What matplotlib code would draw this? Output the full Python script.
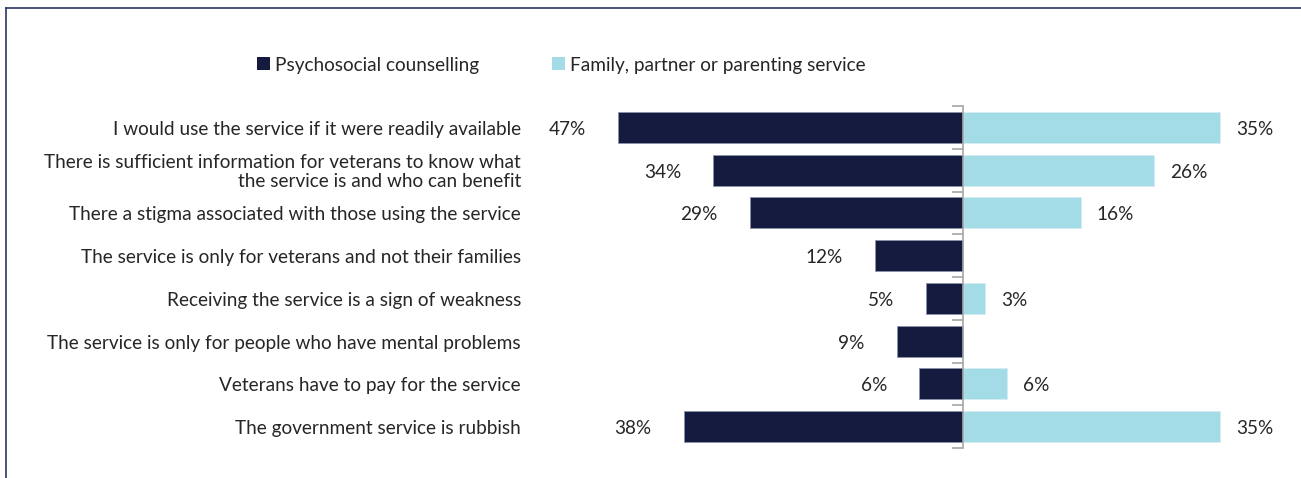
import matplotlib
matplotlib.use("Agg")
import matplotlib.pyplot as plt
from matplotlib.patches import Patch
from matplotlib.lines import Line2D
from matplotlib.transforms import blended_transform_factory

plt.rcParams['font.family'] = ['Lato', 'DejaVu Sans']

# statements, top to bottom
statements = [
    "I would use the service if it were readily available",
    "There is sufficient information for veterans to know what\nthe service is and who can benefit",
    "There a stigma associated with those using the service",
    "The service is only for veterans and not their families",
    "Receiving the service is a sign of weakness",
    "The service is only for people who have mental problems",
    "Veterans have to pay for the service",
    "The government service is rubbish",
]

# share agreeing (%) for each service
counselling = [47, 34, 29, 12, 5, 9, 6, 38]
family = [35, 26, 16, 0, 3, 0, 6, 35]

series_names = ["Psychosocial counselling", "Family, partner or parenting service"]
dark = "#151a3f"
light = "#a3dce7"
text_col = "#262626"
fs = 13.7

W, H = 1301, 478
fig = plt.figure(figsize=(W / 100, H / 100), dpi=100)

# axes placed in pixel terms: 540..1290 wide, 106..448 tall
ax = fig.add_axes([540 / W, 1 - 448 / H, 750 / W, 342 / H])
px_per_pct = 7.35
ax.set_xlim(-(963 - 540) / px_per_pct, (1290 - 963) / px_per_pct)
ax.set_ylim(len(statements) - 0.5, -0.5)

ypos = list(range(len(statements)))
ax.barh(ypos, [-v for v in counselling], height=0.73, color=dark,
        edgecolor="#8d93ad", linewidth=0.6, zorder=2)
ax.barh(ypos, family, height=0.73, color=light,
        edgecolor="#d4eef3", linewidth=0.6, zorder=2)

# value labels
for y, v in zip(ypos, counselling):
    ax.annotate(f"{v}%", xy=(-v, y), xytext=(-32, -2), textcoords="offset pixels",
                ha="right", va="center", fontsize=fs, color=text_col)
for y, v in zip(ypos, family):
    if v == 0:
        continue
    ax.annotate(f"{v}%", xy=(v, y), xytext=(16, -2), textcoords="offset pixels",
                ha="left", va="center", fontsize=fs, color=text_col)

# centre axis with category boundary ticks
for s in ["top", "right", "bottom"]:
    ax.spines[s].set_visible(False)
ax.spines["left"].set_position(("data", 0))
ax.spines["left"].set_color("#a6a6a6")
ax.spines["left"].set_linewidth(1.2)
ax.spines["left"].set_zorder(3)
ax.set_yticks([i - 0.5 for i in range(len(statements) + 1)])
ax.set_yticklabels([])
ax.tick_params(axis="y", length=8, width=1.2, color="#a6a6a6", direction="out")
ax.set_xticks([])

# category labels, right aligned left of the plot
trans = blended_transform_factory(fig.transFigure, ax.transData)
for y, s in zip(ypos, statements):
    ax.annotate(s, xy=(521 / W, y), xycoords=trans, xytext=(0, -2),
                textcoords="offset pixels", ha="right", va="center",
                fontsize=fs, color=text_col, linespacing=1.1,
                annotation_clip=False)

# legend across the top
handles = [Patch(facecolor=dark), Patch(facecolor=light)]
fig.legend(handles, series_names, loc="center left",
           bbox_to_anchor=(257 / W, 1 - 65 / H), ncol=2, frameon=False,
           fontsize=fs, handlelength=0.68, handleheight=0.68,
           handletextpad=0.28, columnspacing=3.8, borderpad=0,
           borderaxespad=0, labelcolor=text_col)

# outer frame: top and left edges
frame_col = "#2b3763"
fig.add_artist(Line2D([6 / W, 1], [1 - 7.5 / H, 1 - 7.5 / H],
                      transform=fig.transFigure, color=frame_col, lw=1.2))
fig.add_artist(Line2D([6 / W, 6 / W], [0, 1 - 7.5 / H],
                      transform=fig.transFigure, color=frame_col, lw=1.2))

fig.savefig("out.png", dpi=100)
